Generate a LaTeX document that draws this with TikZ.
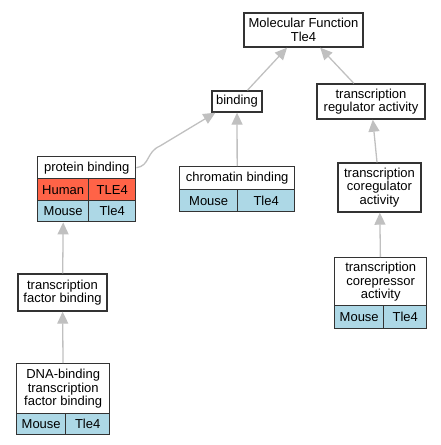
\documentclass[tikz,border=0pt]{standalone}
\usepackage{fontspec}
\setmainfont{Liberation Sans}
\usetikzlibrary{positioning,arrows.meta,calc}
\definecolor{gohuman}{HTML}{FF6347}
\definecolor{gomouse}{HTML}{ADD8E6}
\definecolor{goedge}{HTML}{C0C0C0}
\definecolor{goline}{HTML}{333333}

\begin{document}
\begin{tikzpicture}[x=1pt, y=-1pt,
    term/.style={draw=goline, line width=1.4pt, fill=white, inner sep=0pt, align=center, font=\fontsize{13}{13.5}\selectfont},
    cell/.style={term, anchor=north west},
    isa/.style={draw=goedge, line width=1.3pt, -{Triangle[length=12pt,width=11pt]}}]
    \useasboundingbox (0,0) rectangle (440,445);
    \node[term, minimum width=119pt, minimum height=34pt] (mf) at (303.5,30) {Molecular Function\\Tle4};
    \node[term, minimum width=50pt, minimum height=21pt] (bind) at (237,101.5) {binding};
    \node[term, minimum width=108pt, minimum height=35pt] (trareg) at (371,101.5) {transcription\\regulator activity};
    \node[cell, minimum width=98pt, minimum height=22pt] (pb) at (37,156) {protein binding};
    \node[cell, fill=gohuman, minimum width=51pt, minimum height=22pt] (pbh) at (37,178) {Human};
    \node[cell, fill=gohuman, minimum width=47pt, minimum height=22pt] (pbhg) at (88,178) {TLE4};
    \node[cell, fill=gomouse, minimum width=51pt, minimum height=21pt] (pbm) at (37,200) {Mouse};
    \node[cell, fill=gomouse, minimum width=47pt, minimum height=21pt] (pbmg) at (88,200) {Tle4};
    \node[cell, minimum width=115pt, minimum height=23pt] (chrom) at (179,166) {chromatin binding};
    \node[cell, fill=gomouse, minimum width=58pt, minimum height=22pt] (chromm) at (179,189) {Mouse};
    \node[cell, fill=gomouse, minimum width=57pt, minimum height=22pt] (chrommg) at (237,189) {Tle4};
    \node[term, minimum width=83pt, minimum height=49pt] (coreg) at (379.5,187.5) {transcription\\coregulator\\activity};
    \node[cell, minimum width=92pt, minimum height=48pt] (corep) at (334,257) {transcription\\corepressor\\activity};
    \node[cell, fill=gomouse, minimum width=49pt, minimum height=23pt] (corepm) at (334,305) {Mouse};
    \node[cell, fill=gomouse, minimum width=43pt, minimum height=23pt] (corepmg) at (383,305) {Tle4};
    \node[term, minimum width=89pt, minimum height=37pt] (tfb) at (62.5,292.5) {transcription\\factor binding};
    \node[cell, minimum width=93pt, minimum height=50pt] (dna) at (16,363) {DNA-binding\\transcription\\factor binding};
    \node[cell, fill=gomouse, minimum width=49pt, minimum height=21pt] (dnam) at (16,413) {Mouse};
    \node[cell, fill=gomouse, minimum width=44pt, minimum height=21pt] (dnamg) at (65,413) {Tle4};
    \draw[isa] (bind) -- (mf);
    \draw[isa] (trareg) -- (mf);
    \draw[isa] (chrom) -- (bind);
    \draw[isa] (pb.east) .. controls (150,166) and (146,152) .. (160,146) -- ($(bind.south west)+(4,0)$);
    \draw[isa] (coreg) -- (trareg);
    \draw[isa] (corep) -- (coreg);
    \draw[isa] (tfb) -- (pbm.south);
    \draw[isa] (dna) -- (tfb);
\end{tikzpicture}
\end{document}
